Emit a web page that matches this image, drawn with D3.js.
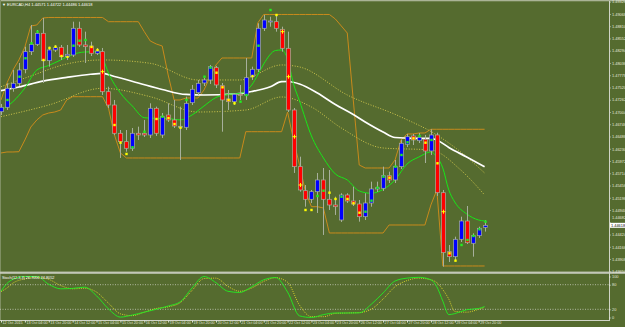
<!DOCTYPE html>
<html>
<head>
<meta charset="utf-8">
<script src="https://cdn.jsdelivr.net/npm/d3@7"></script>
<style>
html, body { margin: 0; padding: 0; background: #556b2f; }
svg { display: block; }
text { font-family: "Liberation Sans", Arial, sans-serif; }
</style>
</head>
<body>
<div id="content"></div>
<script>
// EURCAD H4 candles, 12 Oct 12:00 -> 30 Oct 00:00
var openP = [
1.47010, 1.47103, 1.47503, 1.47608, 1.47903, 1.48274, 1.48429, 1.48661, 1.48084, 1.48309,
1.48366, 1.48168, 1.48204, 1.48766, 1.48415, 1.48394, 1.48240, 1.48274, 1.47431, 1.47151,
1.46556, 1.46379, 1.46240, 1.46556, 1.46556, 1.46520, 1.47082, 1.46520, 1.46941, 1.46836,
1.46695, 1.46682, 1.47200, 1.47410, 1.47615, 1.47678, 1.47937, 1.47558, 1.47278, 1.47221,
1.47377, 1.47362, 1.47747, 1.47903, 1.48766, 1.48909, 1.48905, 1.48745, 1.48345, 1.47046,
1.45853, 1.45347, 1.45166, 1.45326, 1.45573, 1.45166, 1.45046, 1.44730, 1.45257, 1.45130,
1.45067, 1.44800, 1.45088, 1.45383, 1.45398, 1.45663, 1.45573, 1.45853, 1.46324, 1.46499,
1.46400, 1.46429, 1.46183, 1.46520, 1.45305, 1.44063, 1.43958, 1.44324, 1.44709, 1.44240,
1.44400, 1.44571];
var highP = [
1.47173, 1.47608, 1.47888, 1.48036, 1.48379, 1.48836, 1.48730, 1.48983, 1.48379, 1.48415,
1.48415, 1.48415, 1.48905, 1.48905, 1.48695, 1.48484, 1.48352, 1.48352, 1.47537, 1.47257,
1.46625, 1.46625, 1.46667, 1.46695, 1.46836, 1.47187, 1.47116, 1.46983, 1.47187, 1.47257,
1.47116, 1.47326, 1.47573, 1.47678, 1.47720, 1.47994, 1.47973, 1.47615, 1.47467, 1.47398,
1.47573, 1.48141, 1.47958, 1.48872, 1.49046, 1.49010, 1.49046, 1.48800, 1.48695, 1.47088,
1.46063, 1.45467, 1.45362, 1.45720, 1.45825, 1.45783, 1.45221, 1.45293, 1.45293, 1.45431,
1.45151, 1.45293, 1.45537, 1.45537, 1.45853, 1.45747, 1.45994, 1.46415, 1.46541, 1.46541,
1.46562, 1.46520, 1.46640, 1.46568, 1.45362, 1.44204, 1.44379, 1.44800, 1.45025, 1.44450,
1.44589, 1.44722];
var lowP = [
1.46941, 1.47046, 1.47431, 1.47551, 1.47819, 1.48204, 1.48394, 1.47615, 1.47958, 1.48267,
1.48099, 1.48099, 1.48162, 1.48373, 1.48036, 1.48183, 1.48204, 1.47362, 1.47088, 1.46520,
1.46036, 1.46168, 1.46183, 1.46415, 1.46478, 1.46457, 1.46499, 1.46457, 1.46794, 1.46667,
1.45994, 1.46625, 1.47151, 1.47362, 1.47551, 1.47594, 1.47509, 1.46589, 1.47046, 1.47151,
1.47257, 1.47257, 1.47678, 1.47846, 1.48709, 1.48800, 1.48695, 1.48274, 1.47004, 1.45720,
1.45326, 1.45010, 1.45088, 1.44878, 1.44415, 1.44941, 1.44836, 1.44688, 1.45088, 1.45025,
1.44695, 1.44730, 1.45010, 1.45320, 1.45341, 1.45509, 1.45509, 1.45804, 1.46267, 1.46309,
1.46351, 1.45930, 1.46099, 1.45236, 1.43747, 1.43846, 1.43888, 1.44267, 1.44225, 1.43958,
1.44351, 1.44486];
var closeP = [
1.47103, 1.47503, 1.47608, 1.47888, 1.48274, 1.48429, 1.48661, 1.48084, 1.48309, 1.48358,
1.48168, 1.48219, 1.48766, 1.48415, 1.48379, 1.48240, 1.48288, 1.47431, 1.47151, 1.46556,
1.46379, 1.46240, 1.46556, 1.46520, 1.46520, 1.47082, 1.46556, 1.46905, 1.46836, 1.46709,
1.46703, 1.47187, 1.47482, 1.47608, 1.47678, 1.47958, 1.47573, 1.47257, 1.47221, 1.47377,
1.47368, 1.47726, 1.47903, 1.48766, 1.48941, 1.48920, 1.48766, 1.48345, 1.47046, 1.45853,
1.45362, 1.45166, 1.45326, 1.45573, 1.45166, 1.45046, 1.45010, 1.45257, 1.45130, 1.45067,
1.44800, 1.45088, 1.45383, 1.45410, 1.45663, 1.45573, 1.45853, 1.46345, 1.46484, 1.46415,
1.46471, 1.46183, 1.46520, 1.45305, 1.44042, 1.43958, 1.44324, 1.44709, 1.44252, 1.44400,
1.44556, 1.44618];

// orange channel, one value per bar
var upperBand = [
1.47257, 1.47615, 1.47888, 1.48099, 1.48373, 1.48815, 1.48836, 1.48983, 1.48994, 1.48994,
1.48994, 1.48994, 1.48994, 1.48994, 1.48994, 1.48994, 1.48994, 1.48994, 1.48905, 1.48905,
1.48905, 1.48905, 1.48905, 1.48905, 1.48695, 1.48499, 1.48436, 1.48394, 1.47783, 1.47257,
1.47257, 1.47299, 1.47299, 1.47299, 1.47467, 1.47741, 1.47994, 1.48141, 1.48141, 1.48141,
1.48141, 1.48141, 1.48141, 1.48878, 1.49057, 1.49057, 1.49057, 1.49057, 1.49057, 1.49057,
1.49057, 1.49057, 1.49057, 1.49057, 1.49057, 1.49057, 1.48962, 1.48815, 1.48667, 1.47257,
1.45888, 1.45825, 1.45825, 1.45825, 1.45825, 1.45825, 1.45994, 1.46415, 1.46541, 1.46541,
1.46562, 1.46562, 1.46640, 1.46640, 1.46640, 1.46640, 1.46640, 1.46640, 1.46640, 1.46640,
1.46640, 1.46640];
var lowerBand = [
1.46141, 1.46162, 1.46162, 1.46168, 1.46415, 1.46688, 1.46836, 1.46941, 1.46983, 1.47004,
1.47046, 1.47257, 1.47326, 1.47326, 1.47326, 1.47326, 1.47326, 1.47326, 1.47088, 1.46520,
1.46141, 1.46036, 1.46036, 1.46036, 1.46036, 1.46036, 1.46036, 1.46036, 1.46036, 1.46036,
1.46036, 1.46036, 1.46036, 1.46036, 1.46036, 1.46036, 1.46036, 1.46036, 1.46036, 1.46036,
1.46036, 1.46589, 1.46589, 1.46589, 1.46589, 1.46589, 1.46589, 1.46589, 1.47004, 1.46415,
1.45888, 1.45320, 1.45010, 1.45010, 1.44983, 1.44457, 1.44457, 1.44457, 1.44457, 1.44457,
1.44457, 1.44457, 1.44457, 1.44457, 1.44457, 1.44625, 1.44625, 1.44625, 1.44625, 1.44625,
1.44625, 1.44625, 1.45046, 1.45362, 1.43762, 1.43762, 1.43762, 1.43762, 1.43762, 1.43762,
1.43762, 1.43762];

// moving averages read at some bars: [bar, price]
var fastMA = [[0,1.47046],[2,1.47221],[4,1.47509],[6,1.47888],[8,1.47983],[10,1.48099],[12,1.48215],
[14,1.48267],[16,1.48274],[17,1.48141],[18,1.47825],[20,1.47404],[22,1.47130],[24,1.46884],[26,1.46871],
[28,1.46867],[30,1.46836],[32,1.46941],[34,1.47130],[36,1.47309],[38,1.47373],[40,1.47394],[42,1.47573],
[43,1.47783],[44,1.48015],[46,1.48299],[47,1.48309],[48,1.48120],[49,1.47594],[50,1.47236],[52,1.46499],
[54,1.46036],[56,1.45699],[58,1.45573],[60,1.45341],[62,1.45293],[64,1.45373],[66,1.45573],[68,1.45909],
[70,1.46057],[72,1.46162],[73,1.46057],[74,1.45825],[75,1.45362],[76,1.45109],[78,1.44857],[80,1.44730],[81,1.44709]];
var slowMA = [[0,1.47453],[3,1.47530],[7,1.47653],[11,1.47733],[15,1.47798],[17,1.47815],[19,1.47751],
[23,1.47615],[27,1.47478],[31,1.47373],[34,1.47362],[39,1.47383],[42,1.47436],[45,1.47530],[47,1.47642],
[48,1.47646],[50,1.47594],[53,1.47404],[56,1.47162],[59,1.46951],[61,1.46794],[64,1.46583],[66,1.46467],
[69,1.46450],[72,1.46450],[73,1.46415],[75,1.46257],[78,1.46057],[81,1.45853]];
var envUpper = [[0,1.47537],[5,1.47762],[11,1.48015],[17,1.48099],[25,1.48029],[33,1.47678],[40,1.47678],
[47,1.47994],[50,1.47952],[58,1.47362],[67,1.46899],[73,1.46520],[77,1.46162],[81,1.45720]];
var envLower = [[0,1.46905],[8,1.47151],[17,1.47503],[25,1.47326],[33,1.47004],[41,1.47046],[47,1.47320],
[52,1.47109],[57,1.46667],[64,1.46246],[72,1.46204],[77,1.45783],[81,1.45257]];

// signal dots: g = green, y = yellow, x = yellow cross
var markBar = [1,3,4,5,6,7,8,9,10,11,12,13,14,15,16,17,19,20,21,22,24,26,27,28,29,30,31,34,35,36,37,38,39,40,
41,42,43,45,46,47,48,49,50,51,52,53,54,55,56,57,58,59,60,61,62,63,64,65,66,67,68,69,70,71,72,73,74,75,76,77,78,79,80,81];
var markPrice = [1.47257,1.47747,1.48135,1.48450,1.48695,1.48099,1.48352,1.48379,1.48183,1.48168,1.48400,1.48505,
1.48520,1.48373,1.48309,1.47853,1.46730,1.46358,1.46120,1.46261,1.46589,1.46857,1.46905,1.46878,1.46751,1.46674,
1.47257,1.47747,1.47937,1.47831,1.47524,1.47257,1.47187,1.47221,1.47362,1.47762,1.48400,1.49151,1.49046,1.48695,
1.47747,1.46484,1.45467,1.44941,1.44941,1.45236,1.45347,1.45305,1.45173,1.45221,1.45173,1.45082,1.44884,1.44905,
1.45137,1.45410,1.45642,1.45621,1.45853,1.46099,1.46366,1.46450,1.46499,1.46358,1.46415,1.45924,1.44905,1.44029,
1.43874,1.44204,1.44309,1.44394,1.44535,1.44695];
var markKind = ["g","g","g","g","g","y","y","y","y","y","g","g","g","y","y","x","y","y","y","g","g","y","g","y","y","y",
"g","g","g","y","y","y","y","g","g","y","g","g","y","x","x","x","x","y","y","g","g","y","y","g","y","y","y","g",
"g","g","g","y","g","g","g","y","g","y","g","y","x","y","y","g","g","g","g","g"];

// stochastic read at some bars
var stochBar = [0,1,2,4,6,8,10,12,14,16,18,20,22,24,26,28,30,32,34,36,38,40,42,44,46,48,50,52,54,56,58,60,62,64,66,68,70,72,73,74,75,76,78,80,81];
var stochMain = [64,83,93,100,100,81,70,71,74,53,21,1,6,13,20,28,38,72,100,85,64,61,75,92,97.5,62,4,0,7,11,11,11.3,32,60,89,96,98,92,75,40,7,9.5,19,22,26.7];
var stochSignal = [63,72,84,94,98,93,78,70,71.4,62,35,9,4.5,13,22,26,36,66,95,96,76,64,72,88,97,86,30,2,2,10,11,12,20,45,75,90,96,92,85,68,45,15,13,20,24.8];

var priceTicks = [1.43650,1.43908,1.44166,1.44424,1.44682,1.44940,1.45198,1.45456,1.45714,1.45972,1.46230,1.46488,
1.46746,1.47004,1.47262,1.47520,1.47778,1.48036,1.48294,1.48552,1.48810,1.49068,1.49326];
var stochTicks = [0, 20, 80, 100];
var timeBars = [0,4,8,12,16,20,24,28,32,36,40,44,48,52,56,60,64,68,72,76,80];
var timeLabels = ["12 Oct 2015","13 Oct 04:00","13 Oct 20:00","14 Oct 12:00","15 Oct 04:00","15 Oct 20:00",
"16 Oct 12:00","19 Oct 04:00","19 Oct 20:00","20 Oct 12:00","21 Oct 04:00","21 Oct 20:00","22 Oct 12:00",
"23 Oct 04:00","23 Oct 20:00","26 Oct 12:00","27 Oct 04:00","27 Oct 20:00","28 Oct 12:00","29 Oct 04:00","29 Oct 20:00"];

var W = 625, H = 327, axisX = 609;
var txt = "#e4e8da";

var svg = d3.select("#content").append("svg").attr("width", W).attr("height", H);
svg.append("rect").attr("width", W).attr("height", H).attr("fill", "#556b2f");

var x = d3.scaleLinear().domain([0, 81]).range([1, 484.6]);
var y = d3.scaleLinear().domain([1.43650, 1.49326]).range([271.3, 1.7]);
var ys = d3.scaleLinear().domain([0, 100]).range([317.5, 276.5]);

var defs = svg.append("defs");
defs.append("clipPath").attr("id", "cmain").append("rect").attr("x", 0).attr("y", 1.5).attr("width", axisX).attr("height", 270);
defs.append("clipPath").attr("id", "csub").append("rect").attr("x", 0).attr("y", 274).attr("width", axisX).attr("height", 46);

// frame
svg.append("rect").attr("x", 0).attr("y", 0).attr("width", W).attr("height", 1.3).attr("fill", "#aab396");
svg.append("rect").attr("x", 0).attr("y", 0).attr("width", 1).attr("height", 321).attr("fill", "#7f8f62");
svg.append("rect").attr("x", 0).attr("y", 271.6).attr("width", W).attr("height", 2.2).attr("fill", "#c3c7b8");

var main = svg.append("g").attr("clip-path", "url(#cmain)");

// orange channel
var stepLine = d3.line().x(function(d, i) { return x(i); }).y(function(d) { return y(d); });
[upperBand, lowerBand].forEach(function(s) {
    main.append("path").attr("d", stepLine(s)).attr("fill", "none")
        .attr("stroke", "#c98a1c").attr("stroke-width", 1);
});

var smooth = d3.line().x(function(d) { return x(d[0]); }).y(function(d) { return y(d[1]); }).curve(d3.curveMonotoneX);

// envelope (dotted)
[envUpper, envLower].forEach(function(s) {
    main.append("path").attr("d", smooth(s)).attr("fill", "none")
        .attr("stroke", "#cfc64c").attr("stroke-width", 1).attr("stroke-dasharray", "1,1.6");
});

main.append("path").attr("d", smooth(slowMA)).attr("fill", "none")
    .attr("stroke", "#ffffff").attr("stroke-width", 1.7);
main.append("path").attr("d", smooth(fastMA)).attr("fill", "none")
    .attr("stroke", "#19e619").attr("stroke-width", 1);

// candles
var idx = d3.range(openP.length);
main.selectAll(".wick").data(idx).enter().append("line")
    .attr("x1", function(i) { return Math.round(x(i)) + 0.5; })
    .attr("x2", function(i) { return Math.round(x(i)) + 0.5; })
    .attr("y1", function(i) { return y(highP[i]); })
    .attr("y2", function(i) { return y(lowP[i]); })
    .attr("stroke", "#a7b09c").attr("stroke-width", 1);

main.selectAll(".body").data(idx).enter().append("rect")
    .attr("x", function(i) { return Math.round(x(i)) - 1.5; })
    .attr("width", 4)
    .attr("y", function(i) { return y(Math.max(openP[i], closeP[i])); })
    .attr("height", function(i) { return Math.max(1, Math.abs(y(openP[i]) - y(closeP[i]))); })
    .attr("fill", function(i) { return closeP[i] >= openP[i] ? "#0000ff" : "#ff0000"; })
    .attr("stroke", "#a7b09c").attr("stroke-width", 0.7);

// signal dots
markBar.forEach(function(b, k) {
    var cx = Math.round(x(b)) + 0.5, cy = y(markPrice[k]);
    if (markKind[k] === "x") {
        main.append("path").attr("d", "M" + (cx - 2) + "," + cy + "h4M" + cx + "," + (cy - 2) + "v4")
            .attr("stroke", "#ffff00").attr("stroke-width", 1);
    } else {
        main.append("rect").attr("x", cx - 1.2).attr("y", cy - 1.2).attr("width", 2.4).attr("height", 2.4)
            .attr("fill", markKind[k] === "g" ? "#22ee22" : "#ffff00");
    }
});

// price axis, the label under the current price box is pushed up a little
var last = closeP[closeP.length - 1];
var pAxis = svg.append("g").attr("transform", "translate(" + axisX + ",0)")
    .call(d3.axisRight(y).tickValues(priceTicks).tickFormat(d3.format(".5f")).tickSize(1.5).tickPadding(1.5));
pAxis.select(".domain").remove();
pAxis.selectAll("line").attr("stroke", txt);
pAxis.selectAll("text").attr("fill", txt).attr("font-size", "3.9px")
    .attr("dy", function(d) { return Math.abs(y(d) - y(last)) < 5.5 ? "-0.9em" : "0.32em"; });
svg.append("line").attr("x1", axisX + 0.5).attr("x2", axisX + 0.5).attr("y1", 1).attr("y2", 321)
    .attr("stroke", "#d0d4c6").attr("stroke-width", 1);

// current price label
svg.append("rect").attr("x", axisX + 1).attr("y", y(last) - 2.5).attr("width", 15).attr("height", 5).attr("fill", "#ffffff");
svg.append("text").attr("x", axisX + 2).attr("y", y(last) + 1.4).attr("font-size", "3.9px").attr("fill", "#000")
    .text(d3.format(".5f")(last));

// title
svg.append("text").attr("x", 2).attr("y", 6.4).attr("font-size", "4px").attr("fill", "#ffffff")
    .text("\u25BC EURCAD,H4  " + [openP, highP, lowP, closeP].map(function(a) { return d3.format(".5f")(a[a.length - 1]); }).join(" "));

// stochastic window
var sub = svg.append("g").attr("clip-path", "url(#csub)");
[20, 80].forEach(function(v) {
    sub.append("line").attr("x1", 0).attr("x2", axisX).attr("y1", ys(v)).attr("y2", ys(v))
        .attr("stroke", "#c8ccbc").attr("stroke-width", 0.8).attr("stroke-dasharray", "1,1.5");
});
var sLine = d3.line().x(function(d, i) { return x(stochBar[i]); }).y(function(d) { return ys(d); }).curve(d3.curveMonotoneX);
sub.append("path").attr("d", sLine(stochSignal)).attr("fill", "none")
    .attr("stroke", "#d8d42a").attr("stroke-width", 1).attr("stroke-dasharray", "1,1.2");
sub.append("path").attr("d", sLine(stochMain)).attr("fill", "none")
    .attr("stroke", "#22ee22").attr("stroke-width", 0.9);

svg.append("text").attr("x", 2).attr("y", 279.2).attr("font-size", "3.8px").attr("fill", "#ffffff")
    .text("Stoch(12,3,3) 26.7056 24.8052");

var sAxis = svg.append("g").attr("transform", "translate(" + axisX + ",0)")
    .call(d3.axisRight(ys).tickValues(stochTicks).tickSize(1.5).tickPadding(1.5));
sAxis.select(".domain").remove();
sAxis.selectAll("line").attr("stroke", txt);
sAxis.selectAll("text").attr("fill", txt).attr("font-size", "3.9px");

// time axis
svg.append("line").attr("x1", 0).attr("x2", axisX + 1).attr("y1", 320.5).attr("y2", 320.5)
    .attr("stroke", "#d0d4c6").attr("stroke-width", 1);
var tAxis = svg.append("g").attr("transform", "translate(0,320.5)")
    .call(d3.axisBottom(x).tickValues(timeBars).tickSize(2)
        .tickFormat(function(d, i) { return timeLabels[i]; }));
tAxis.select(".domain").remove();
tAxis.selectAll("line").attr("stroke", txt);
tAxis.selectAll("text").attr("fill", txt).attr("font-size", "3.7px")
    .attr("text-anchor", "start").attr("dx", "1px").attr("dy", "-0.45em");
</script>
</body>
</html>
